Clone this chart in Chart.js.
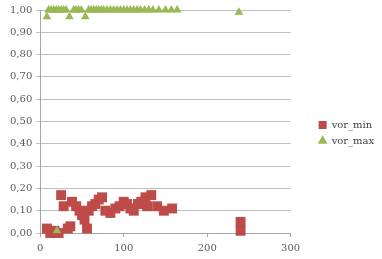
<!DOCTYPE html>
<html>
<head>
<meta charset="utf-8">
<script src="https://cdn.jsdelivr.net/npm/chart.js@4"></script>
<style>
    html, body {margin: 0; padding: 0; background: #fff;}
    #wrap {width: 382px; height: 259px;}
</style>
</head>
<body>
<div id="wrap"><canvas id="scatterChart"></canvas></div>
<script>
// vor_min series
const minX = [8, 12, 17, 22, 25, 28, 33, 36, 38, 43, 47, 50, 53, 56, 58, 62, 66, 70, 74, 78, 84, 90, 95, 100, 104, 108, 112, 117, 121, 126, 128, 133, 140, 148, 158, 240, 240];
const minY = [0.02, 0.00, 0.01, 0.00, 0.17, 0.12, 0.02, 0.03, 0.14, 0.12, 0.10, 0.08, 0.06, 0.02, 0.10, 0.12, 0.13, 0.15, 0.16, 0.10, 0.09, 0.11, 0.12, 0.14, 0.13, 0.11, 0.10, 0.13, 0.14, 0.16, 0.12, 0.17, 0.12, 0.10, 0.11, 0.05, 0.01];
// vor_max series
const maxX = [8, 10, 13, 16, 19, 20, 22, 25, 28, 31, 35, 40, 43, 46, 49, 54, 58, 61, 64, 67, 70, 73, 76, 80, 84, 88, 92, 96, 100, 104, 108, 112, 116, 120, 125, 130, 135, 142, 150, 157, 164, 238];
const maxY = [0.97, 1.00, 1.00, 1.00, 1.00, 0.01, 1.00, 1.00, 1.00, 1.00, 0.97, 1.00, 1.00, 1.00, 1.00, 0.97, 1.00, 1.00, 1.00, 1.00, 1.00, 1.00, 1.00, 1.00, 1.00, 1.00, 1.00, 1.00, 1.00, 1.00, 1.00, 1.00, 1.00, 1.00, 1.00, 1.00, 1.00, 1.00, 1.00, 1.00, 1.00, 0.99];
const xTicks = [0, 100, 200, 300];

function toPoints(xs, ys) {
    return xs.map(function (x, i) { return {x: x, y: ys[i]}; });
}

Chart.defaults.font.family = '"DejaVu Serif", serif';
Chart.defaults.font.size = 10;
Chart.defaults.color = '#595959';

new Chart(document.getElementById('scatterChart'), {
    type: 'scatter',
    data: {
        datasets: [{
            label: 'vor_min',
            data: toPoints(minX, minY),
            pointStyle: 'rect',
            pointRadius: 7,
            backgroundColor: '#be4b48',
            borderColor: '#be4b48',
            borderWidth: 0,
            clip: false,
            order: 1
        }, {
            label: 'vor_max',
            data: toPoints(maxX, maxY),
            pointStyle: 'triangle',
            pointRadius: 5,
            backgroundColor: '#98b954',
            borderColor: '#98b954',
            borderWidth: 0,
            clip: false,
            order: 0
        }]
    },
    options: {
        responsive: true,
        maintainAspectRatio: false,
        animation: false,
        layout: {padding: {left: 6, right: 8, top: 7, bottom: 0}},
        plugins: {
            tooltip: {enabled: false},
            legend: {
                position: 'right',
                labels: {
                    usePointStyle: true,
                    boxWidth: 8,
                    boxHeight: 8,
                    padding: 6,
                    color: '#404040',
                    sort: function (a, b) { return a.datasetIndex - b.datasetIndex; }
                }
            }
        },
        scales: {
            x: {
                type: 'linear',
                min: 0,
                max: 300,
                afterBuildTicks: function (axis) {
                    axis.ticks = xTicks.map(function (v) { return {value: v}; });
                },
                grid: {drawOnChartArea: false, tickLength: 4, color: '#a6a6a6'},
                border: {color: '#a6a6a6'},
                ticks: {padding: 5, maxRotation: 0}
            },
            y: {
                min: 0,
                max: 1,
                ticks: {
                    stepSize: 0.1,
                    padding: 4,
                    callback: function (v) { return v.toFixed(2).replace('.', ','); }
                },
                grid: {color: '#bfbfbf', tickLength: 4},
                border: {color: '#a6a6a6'}
            },
            // empty axis, only keeps a gap between plot and legend
            gap: {
                type: 'linear',
                position: 'right',
                grid: {display: false},
                border: {display: false},
                ticks: {display: false},
                afterFit: function (axis) { axis.width = 22; }
            }
        }
    }
});
</script>
</body>
</html>
